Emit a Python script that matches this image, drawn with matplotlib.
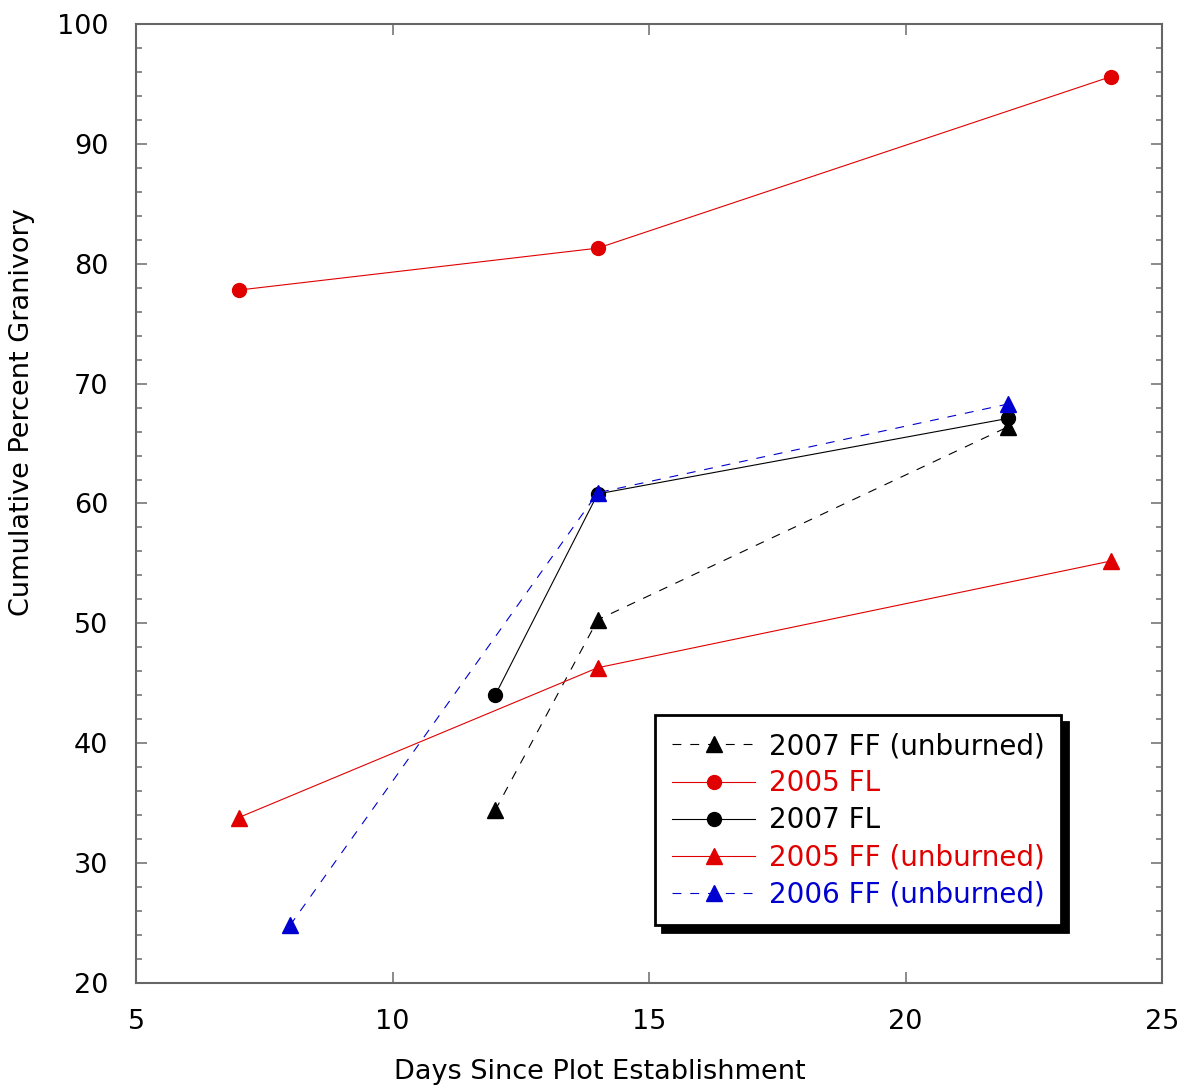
import matplotlib.pyplot as plt
from matplotlib.ticker import MultipleLocator

plt.rcParams['font.family'] = ['DejaVu Sans']

# Data
days_2005 = [7, 14, 24]
fl_2005 = [77.8, 81.3, 95.6]
ff_2005 = [33.8, 46.3, 55.2]

days_2006 = [8, 14, 22]
ff_2006 = [24.8, 60.9, 68.3]

days_2007 = [12, 14, 22]
fl_2007 = [44.0, 60.8, 67.1]
ff_2007 = [34.4, 50.3, 66.4]

red = "#e00000"
blue = "#0000d0"

fig = plt.figure(figsize=(11.85, 10.89), dpi=100)
ax = fig.add_axes([0.1148, 0.0973, 0.8658, 0.8807])

lw = 0.8
ax.plot(days_2007, ff_2007, color="black", lw=lw, ls=(0, (8, 8)), marker="^", ms=11,
        label="2007 FF (unburned)")
ax.plot(days_2005, fl_2005, color=red, lw=lw, marker="o", ms=10, label="2005 FL")
ax.plot(days_2007, fl_2007, color="black", lw=lw, marker="o", ms=10, label="2007 FL")
ax.plot(days_2005, ff_2005, color=red, lw=lw, marker="^", ms=11, label="2005 FF (unburned)")
ax.plot(days_2006, ff_2006, color=blue, lw=lw, ls=(0, (8, 8)), marker="^", ms=11,
        label="2006 FF (unburned)")

ax.set_xlim(5, 25)
ax.set_ylim(20, 100)
ax.xaxis.set_major_locator(MultipleLocator(5))
ax.yaxis.set_major_locator(MultipleLocator(10))
ax.yaxis.set_minor_locator(MultipleLocator(2))
ax.tick_params(which="both", direction="in", top=True, right=True, labelsize=19.5,
               color="#777777")
ax.tick_params(which="major", length=8, width=1.2)
ax.tick_params(which="minor", length=4, width=1.2)
ax.tick_params(axis="x", pad=19)
ax.tick_params(axis="y", pad=20)
for s in ax.spines.values():
    s.set_color("#666666")
    s.set_linewidth(1.5)

# labels sit a bit off-centre in the original
ax.set_xlabel("Days Since Plot Establishment", fontsize=19.5)
ax.set_ylabel("Cumulative Percent Granivory", fontsize=19.5)
ax.xaxis.set_label_coords(0.452, -0.079)
ax.yaxis.set_label_coords(-0.0984, 0.595)

leg = ax.legend(loc="lower left", bbox_to_anchor=(0.506, 0.06), borderaxespad=0,
                fontsize=20, labelcolor="linecolor", fancybox=False,
                shadow={"color": "black", "alpha": 1, "ox": 5, "oy": -5},
                handlelength=3, handletextpad=0.5, labelspacing=0.33,
                borderpad=0.6, framealpha=1)
leg.get_frame().set_edgecolor("black")
leg.get_frame().set_linewidth(2)

plt.savefig("out.png", dpi=100)
